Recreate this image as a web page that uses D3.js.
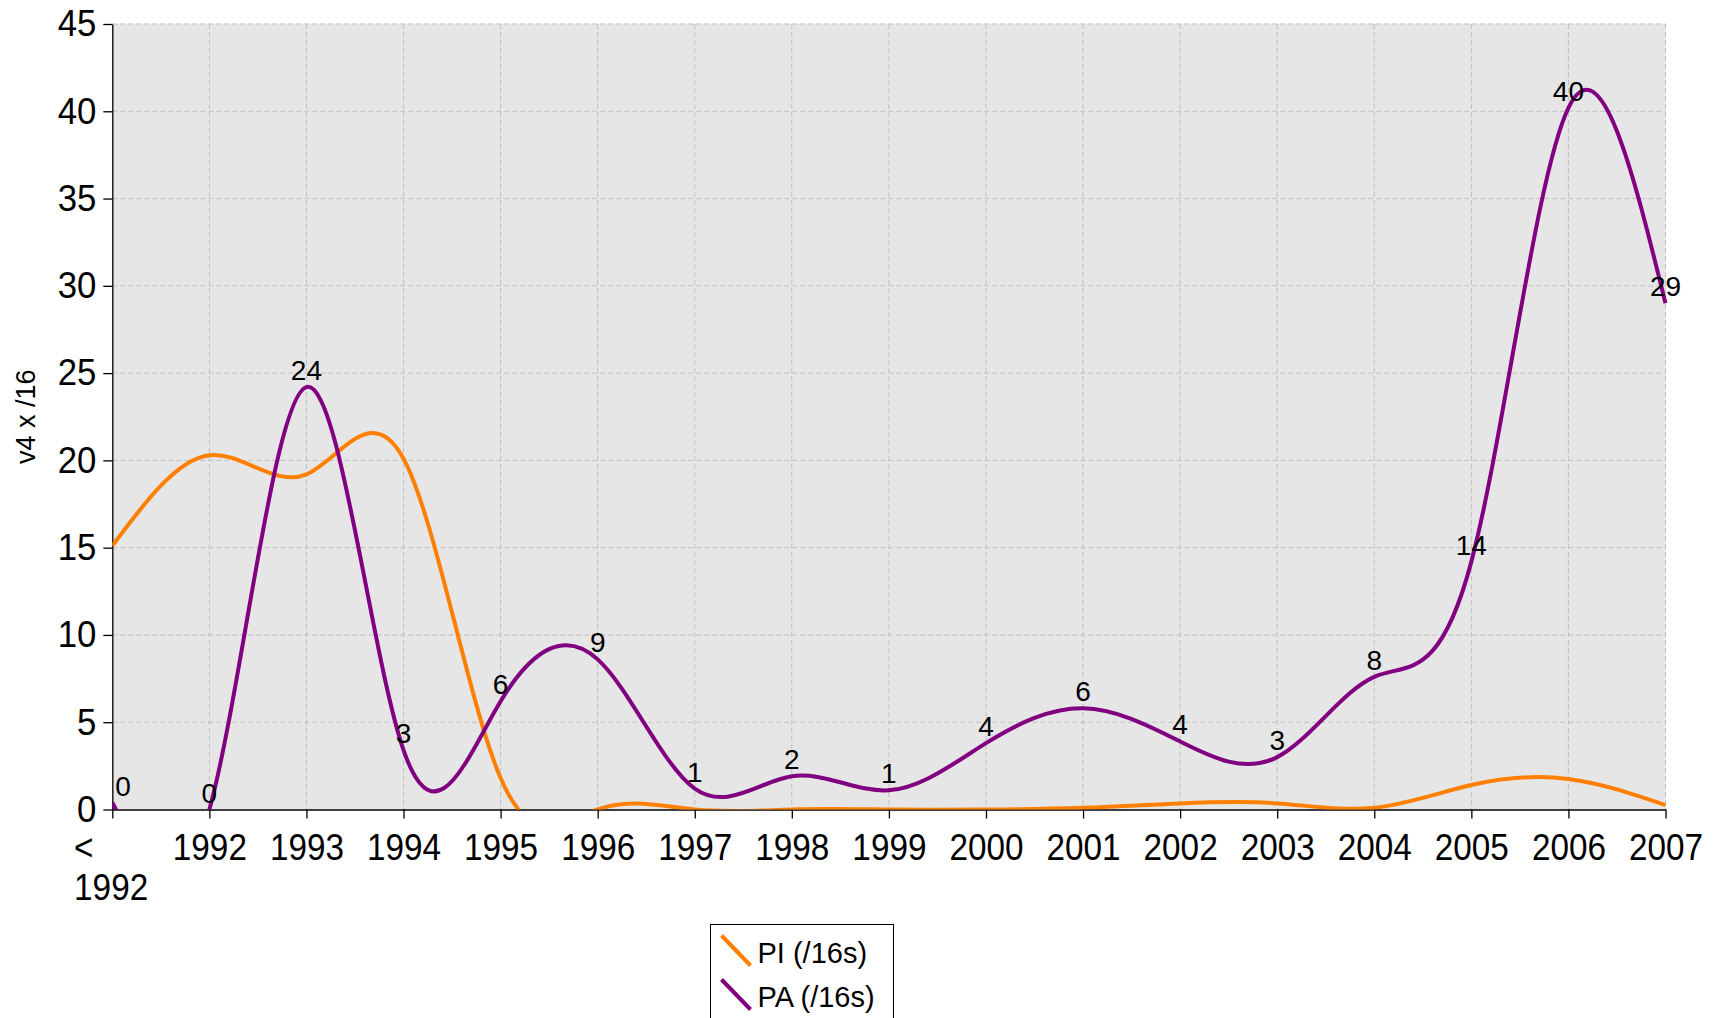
<!DOCTYPE html>
<html>
<head>
<meta charset="utf-8">
<script src="https://cdn.jsdelivr.net/npm/d3@7"></script>
<style>
  body { margin: 0; background: #fff; }
  svg { display: block; font-family: "Liberation Sans", Arial, sans-serif; }
</style>
</head>
<body>
<script>
/* -----------------------------------------------------
 *  Data
 ----------------------------------------------------- */
const categories = ["< 1992", "1992", "1993", "1994", "1995", "1996", "1997", "1998",
  "1999", "2000", "2001", "2002", "2003", "2004", "2005", "2006", "2007"];
const piValues = [15.1, 20.3, 19.2, 20.1, 1.8, 0, 0, 0, 0, 0, 0.1, 0.35, 0.35, 0.1, 1.4, 1.75, 0.25];
const paValues = [0.4, 0, 24.2, 3.4, 6.2, 8.6, 1.2, 1.9, 1.1, 3.8, 5.8, 3.9, 3.0, 7.6, 14.2, 40.2, 29.0];
const yTicks = [0, 5, 10, 15, 20, 25, 30, 35, 40, 45];
const seriesNames = ["PI (/16s)", "PA (/16s)"];
const seriesColors = ["#ff7f00", "#800080"];

/* -----------------------------------------------------
 *  SVG setup
 ----------------------------------------------------- */
const width = 1726;
const height = 1018;
const plotLeft = 112.3, plotRight = 1665.5, plotTop = 24, plotBottom = 809.5;

const svg = d3
  .select("body")
  .append("svg")
  .attr("width", width)
  .attr("height", height);

const x = d3.scalePoint().domain(categories).range([plotLeft, plotRight]);
const y = d3.scaleLinear().domain([0, 45]).range([plotBottom, plotTop]);

// plot background
svg
  .append("rect")
  .attr("x", plotLeft)
  .attr("y", plotTop)
  .attr("width", plotRight - plotLeft)
  .attr("height", plotBottom - plotTop)
  .attr("fill", "#e6e6e6");

// grid lines
svg
  .selectAll(".hgrid")
  .data(yTicks.filter((d) => d > 0))
  .enter()
  .append("line")
  .attr("x1", plotLeft)
  .attr("x2", plotRight)
  .attr("y1", (d) => y(d))
  .attr("y2", (d) => y(d))
  .attr("stroke", "#c0c0c0")
  .attr("stroke-width", 1)
  .attr("stroke-dasharray", "5,3");

svg
  .selectAll(".vgrid")
  .data(categories.slice(1))
  .enter()
  .append("line")
  .attr("x1", (d) => x(d))
  .attr("x2", (d) => x(d))
  .attr("y1", plotTop)
  .attr("y2", plotBottom)
  .attr("stroke", "#c0c0c0")
  .attr("stroke-width", 1)
  .attr("stroke-dasharray", "5,3");

/* -----------------------------------------------------
 *  Axes
 ----------------------------------------------------- */
const yAxis = svg
  .append("g")
  .attr("transform", `translate(${plotLeft},0)`)
  .call(d3.axisLeft(y).tickValues(yTicks).tickSize(9).tickSizeOuter(0).tickPadding(7));

const xAxis = svg
  .append("g")
  .attr("transform", `translate(0,${plotBottom})`)
  .call(d3.axisBottom(x).tickSize(9).tickSizeOuter(0).tickPadding(15));

[yAxis, xAxis].forEach((g) => {
  g.select(".domain").attr("stroke", "#000").attr("stroke-width", 1.3);
  g.selectAll(".tick line").attr("stroke", "#000").attr("stroke-width", 1.3);
  g.selectAll("text")
    .attr("fill", "#000")
    .style("font-size", "37px")
    .style("font-family", '"Liberation Sans", Arial, sans-serif');
});

// the original labels are a bit condensed
xAxis.selectAll(".tick text").attr("transform", "scale(0.9,1)");
yAxis.selectAll(".tick text").attr("x", -17).attr("transform", "scale(0.94,1)");

// wrap "< 1992" on two lines, left aligned
xAxis
  .selectAll(".tick text")
  .filter((d) => d === categories[0])
  .each(function (d) {
    const t = d3.select(this);
    const parts = d.split(" ");
    t.text(null).attr("text-anchor", "start").attr("x", -43).attr("dy", null);
    parts.forEach((p, i) => {
      t.append("tspan")
        .attr("x", -43)
        .attr("dy", i === 0 ? "0.71em" : "40px")
        .text(p);
    });
  });

// y axis title
svg
  .append("text")
  .attr("transform", `translate(35,${(plotTop + plotBottom) / 2}) rotate(-90)`)
  .attr("text-anchor", "middle")
  .style("font-size", "27px")
  .text("v4 x /16");

/* -----------------------------------------------------
 *  Series
 ----------------------------------------------------- */
svg
  .append("clipPath")
  .attr("id", "plotClip")
  .append("rect")
  .attr("x", plotLeft)
  .attr("y", plotTop - 5)
  .attr("width", plotRight - plotLeft + 5)
  .attr("height", plotBottom - plotTop + 5);

const line = d3
  .line()
  .x((d, i) => x(categories[i]))
  .y((d) => y(d))
  .curve(d3.curveNatural);

[piValues, paValues].forEach((vals, s) => {
  svg
    .append("path")
    .datum(vals)
    .attr("clip-path", "url(#plotClip)")
    .attr("fill", "none")
    .attr("stroke", seriesColors[s])
    .attr("stroke-width", 4)
    .attr("stroke-linejoin", "round")
    .attr("d", line);
});

// PA value labels
svg
  .selectAll(".paLabel")
  .data(paValues)
  .enter()
  .append("text")
  .attr("class", "paLabel")
  .attr("x", (d, i) => (i === 0 ? x(categories[i]) + 3 : x(categories[i])))
  .attr("y", (d) => y(d) - 7)
  .attr("text-anchor", (d, i) => (i === 0 ? "start" : "middle"))
  .style("font-size", "28px")
  .text((d) => Math.round(d));

/* -----------------------------------------------------
 *  Legend
 ----------------------------------------------------- */
const legend = svg.append("g").attr("transform", "translate(710.5,924.5)");

legend
  .append("rect")
  .attr("width", 183)
  .attr("height", 120)
  .attr("fill", "#fff")
  .attr("stroke", "#000")
  .attr("stroke-width", 1);

seriesNames.forEach((name, i) => {
  legend
    .append("line")
    .attr("x1", 11)
    .attr("y1", 11 + i * 44)
    .attr("x2", 40)
    .attr("y2", 41 + i * 44)
    .attr("stroke", seriesColors[i])
    .attr("stroke-width", 4);
  legend
    .append("text")
    .attr("x", 47)
    .attr("y", 38 + i * 44)
    .style("font-size", "29px")
    .text(name);
});
</script>
</body>
</html>
